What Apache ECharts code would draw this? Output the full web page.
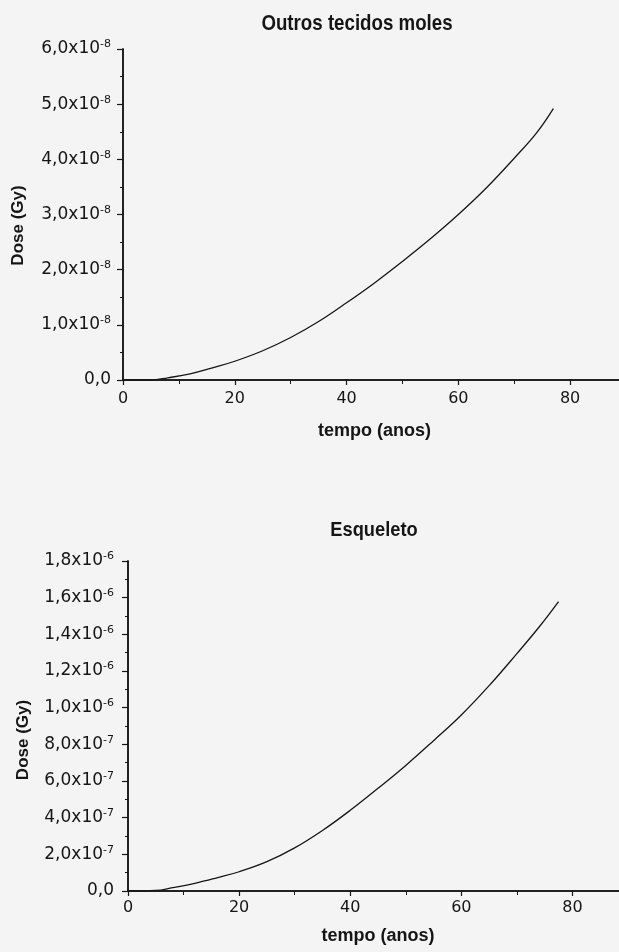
<!DOCTYPE html>
<html>
<head>
<meta charset="utf-8">
<script src="https://cdn.jsdelivr.net/npm/echarts@6/dist/echarts.min.js"></script>
<style>
  html, body { margin: 0; padding: 0; background: #f4f4f4; }
  #chart { width: 619px; height: 952px; }
</style>
</head>
<body>
<div id="chart"></div>
<script>
// Outros tecidos moles: tempo (anos) / dose in units of 1e-8 Gy
var tempoOutros = [0, 5, 8, 12, 16, 20, 25, 30, 35, 40, 45, 50, 55, 60, 65, 70, 74, 77];
var doseOutros = [0, 0, 0.04, 0.11, 0.22, 0.34, 0.53, 0.77, 1.06, 1.40, 1.76, 2.15, 2.56, 3.00, 3.48, 4.02, 4.48, 4.92];

// Esqueleto: tempo (anos) / dose in units of 1e-7 Gy
var tempoEsq = [0, 5, 8, 12, 16, 20, 25, 30, 35, 40, 45, 50, 55, 60, 65, 70, 74, 77.5];
var doseEsq = [0, 0.03, 0.18, 0.42, 0.72, 1.05, 1.6, 2.35, 3.3, 4.4, 5.6, 6.85, 8.2, 9.6, 11.2, 12.95, 14.4, 15.79];

var xTicks = [0, 20, 40, 60, 80];
var titles = ['Outros tecidos moles', 'Esqueleto'];

var ink = '#151515';
var labelFont = '"DejaVu Sans", sans-serif';
var boldFont = '"Liberation Sans", Arial, sans-serif';

function pairs(xs, ys) {
  return xs.map(function (x, i) { return [x, ys[i]]; });
}

function comma(v) {
  return v.toFixed(1).replace('.', ',');
}

// top chart ticks: 1e-8 units
function fmtOutros(v) {
  if (v === 0) return '{m|0,0}';
  return '{m|' + comma(v) + 'x10}{s|-8}';
}
// bottom chart ticks: 1e-7 units
function fmtEsq(v) {
  if (v === 0) return '{m|0,0}';
  if (v >= 10) return '{m|' + comma(v / 10) + 'x10}{s|-6}';
  return '{m|' + comma(v) + 'x10}{s|-7}';
}

var rich = {
  m: { fontSize: 17, fontFamily: labelFont, color: ink, lineHeight: 20 },
  s: { fontSize: 11, fontFamily: labelFont, color: ink, verticalAlign: 'top', lineHeight: 10 }
};

function bottomX(grid, gap, margin) {
  return {
    type: 'value', gridIndex: grid, position: 'bottom', min: 0, max: 90, interval: 20,
    axisLine: { lineStyle: { color: ink, width: 1.5 } },
    axisTick: { length: 5, lineStyle: { color: ink, width: 1.2 } },
    minorTick: { show: true, splitNumber: 2, length: 3, lineStyle: { color: ink } },
    axisLabel: { fontSize: 16, fontFamily: labelFont, color: ink, margin: margin,
      formatter: function (v) { return xTicks.indexOf(v) >= 0 ? String(v) : ''; } },
    splitLine: { show: false },
    name: 'tempo (anos)', nameLocation: 'middle', nameGap: gap,
    nameTextStyle: { fontSize: 18, fontWeight: 'bold', fontFamily: boldFont, color: ink }
  };
}

function topX(grid) {
  return {
    type: 'value', gridIndex: grid, position: 'top', min: 0, max: 90, interval: 10,
    axisLine: { lineStyle: { color: ink, width: 1.5 } },
    axisTick: { inside: true, length: 4, lineStyle: { color: ink } },
    axisLabel: { show: false }, splitLine: { show: false }
  };
}

function leftY(grid, max, interval, fmt, pad, margin) {
  return {
    type: 'value', gridIndex: grid, position: 'left', min: 0, max: max, interval: interval,
    axisLine: { show: true, lineStyle: { color: ink, width: 1.5 } },
    axisTick: { show: true, length: 6, lineStyle: { color: ink, width: 1.2 } },
    minorTick: { show: true, splitNumber: 2, length: 3, lineStyle: { color: ink } },
    axisLabel: { margin: margin, formatter: fmt, rich: rich },
    splitLine: { show: false },
    name: 'Dose (Gy)', nameLocation: 'middle', nameGap: 96,
    nameTextStyle: { fontSize: 17, fontWeight: 'bold', fontFamily: boldFont, color: ink, padding: pad }
  };
}

function rightY(grid, max, interval) {
  return {
    type: 'value', gridIndex: grid, position: 'right', min: 0, max: max, interval: interval,
    axisLine: { show: true, lineStyle: { color: ink, width: 1.5 } },
    axisTick: { show: true, inside: true, length: 5, lineStyle: { color: ink } },
    axisLabel: { show: false }, splitLine: { show: false }
  };
}

var chart = echarts.init(document.getElementById('chart'));
chart.setOption({
  backgroundColor: '#f4f4f4',
  animation: false,
  grid: [
    { left: 123, top: 49, width: 503, height: 331, outerBoundsMode: 'none' },
    { left: 128, top: 561, width: 500, height: 330, outerBoundsMode: 'none' }
  ],
  xAxis: [bottomX(0, 42, 11), topX(0), bottomX(1, 36, 9), topX(1)],
  yAxis: [
    leftY(0, 6, 1, fmtOutros, [0, 22, 0, 0], 12), rightY(0, 6, 1),
    leftY(1, 18, 2, fmtEsq, [0, 28, 0, 0], 14), rightY(1, 18, 2)
  ],
  graphic: [
    { type: 'text', x: 357, y: 24, scaleX: 0.85, style: { text: titles[0], font: 'bold 22px ' + boldFont,
      fill: ink, textAlign: 'center', verticalAlign: 'middle' } },
    { type: 'text', x: 374, y: 530, scaleX: 0.87, style: { text: titles[1], font: 'bold 21px ' + boldFont,
      fill: ink, textAlign: 'center', verticalAlign: 'middle' } }
  ],
  series: [
    {
      type: 'line', xAxisIndex: 0, yAxisIndex: 0, data: pairs(tempoOutros, doseOutros),
      showSymbol: false, smooth: 0.4, lineStyle: { color: ink, width: 1.3 }
    },
    {
      type: 'line', xAxisIndex: 2, yAxisIndex: 2, data: pairs(tempoEsq, doseEsq),
      showSymbol: false, smooth: 0.4, lineStyle: { color: ink, width: 1.3 }
    }
  ]
});
</script>
</body>
</html>
